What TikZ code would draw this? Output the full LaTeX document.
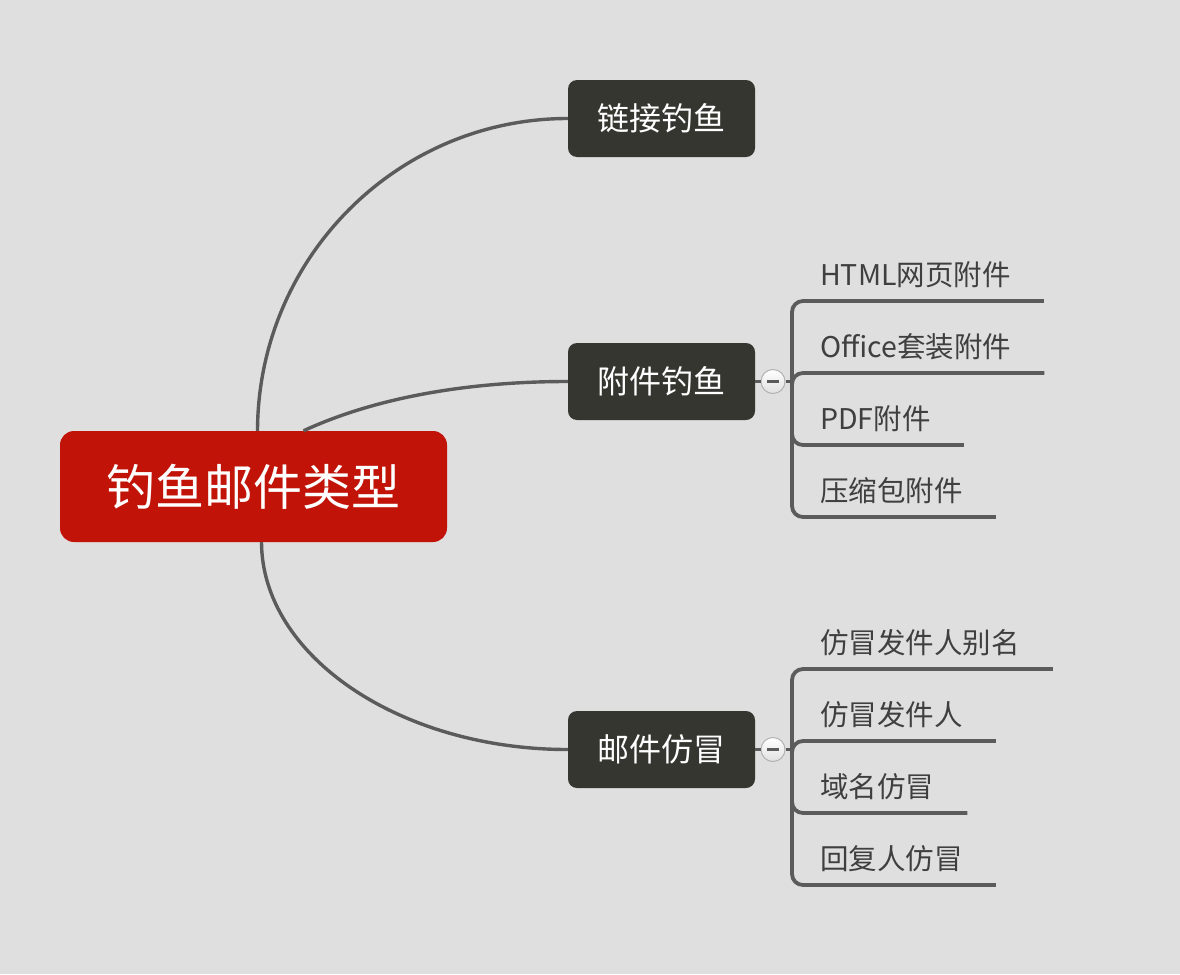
\documentclass[tikz,border=0pt]{standalone}
\usepackage{fontspec}
\setmainfont{Noto Sans CJK SC}
\definecolor{bgcol}{HTML}{DFDFDF}
\definecolor{rootcol}{HTML}{C11308}
\definecolor{topiccol}{HTML}{363631}
\definecolor{linecol}{HTML}{5B5B5B}
\definecolor{leafcol}{HTML}{3F3F3F}
\tikzset{
  rootnode/.style={fill=rootcol, text=white, rounded corners=14pt, minimum width=387pt,
    minimum height=111pt, font=\fontsize{49}{52}\selectfont},
  topicnode/.style={fill=topiccol, text=white, rounded corners=9pt, minimum width=187pt,
    minimum height=77pt, font=\fontsize{32}{35}\selectfont},
  leafnode/.style={text=leafcol, anchor=south west, inner xsep=33pt, inner ysep=13pt,
    font=\fontsize{28.5}{31}\selectfont},
  foldnode/.style={circle, draw=black!30, line width=1pt, top color=white,
    bottom color=black!12, minimum size=24pt, inner sep=0pt},
  branch/.style={draw=linecol, line width=3.4pt},
  bracket/.style={draw=linecol, line width=3.8pt, rounded corners=11pt}
}
\begin{document}
\begin{tikzpicture}[x=1pt, y=-1pt]
  \fill[bgcol] (0,0) rectangle (1180,974);
  \useasboundingbox (0,0) rectangle (1180,974);
  % main topics
  \node[rootnode] (root) at (253.5,486.5) {钓鱼邮件类型};
  \node[topicnode] (link) at (661.5,118.5) {链接钓鱼};
  \node[topicnode] (attach) at (661.5,381.5) {附件钓鱼};
  \node[topicnode] (spoof) at (661.5,749.5) {邮件仿冒};
  % fold buttons
  \node[foldnode] (fa) at (773,381.5) {};
  \node[foldnode] (fs) at (773,749.5) {};
  \coordinate (ja) at (792,381.5);
  \coordinate (js) at (792,749.5);
  % subtopics
  \node[leafnode] (a1) at (787,301) {HTML网页附件};
  \node[leafnode] (a2) at (787,373) {Office套装附件};
  \node[leafnode] (a3) at (787,445) {PDF附件};
  \node[leafnode] (a4) at (787,517) {压缩包附件};
  \node[leafnode] (s1) at (787,669) {仿冒发件人别名};
  \node[leafnode] (s2) at (787,741) {仿冒发件人};
  \node[leafnode] (s3) at (787,813) {域名仿冒};
  \node[leafnode] (s4) at (787,885) {回复人仿冒};
  \begin{scope}[branch]
    \draw ([xshift=4pt]root.north) .. controls (258,258) and (397,118.5) .. (link.west);
    \draw ([xshift=50pt]root.north) .. controls (370,400) and (460,381.5) .. (attach.west);
    \draw ([xshift=8pt]root.south) .. controls (262,656) and (400,749.5) .. (spoof.west);
    \draw (attach.east) -- (fa.west);
    \draw (spoof.east) -- (fs.west);
    \draw (fa.east) -- (ja);
    \draw (fs.east) -- (js);
  \end{scope}
  \begin{scope}[bracket]
    \draw (ja) |- (a1.south east);
    \draw (ja) |- (a2.south east);
    \draw (ja) |- (a3.south east);
    \draw (ja) |- (a4.south east);
    \draw (js) |- (s1.south east);
    \draw (js) |- (s2.south east);
    \draw (js) |- (s3.south east);
    \draw (js) |- (s4.south east);
  \end{scope}
  % minus signs
  \draw[linecol, line width=3pt] ([xshift=-6pt]fa.center) -- ([xshift=6pt]fa.center);
  \draw[linecol, line width=3pt] ([xshift=-6pt]fs.center) -- ([xshift=6pt]fs.center);
\end{tikzpicture}
\end{document}
